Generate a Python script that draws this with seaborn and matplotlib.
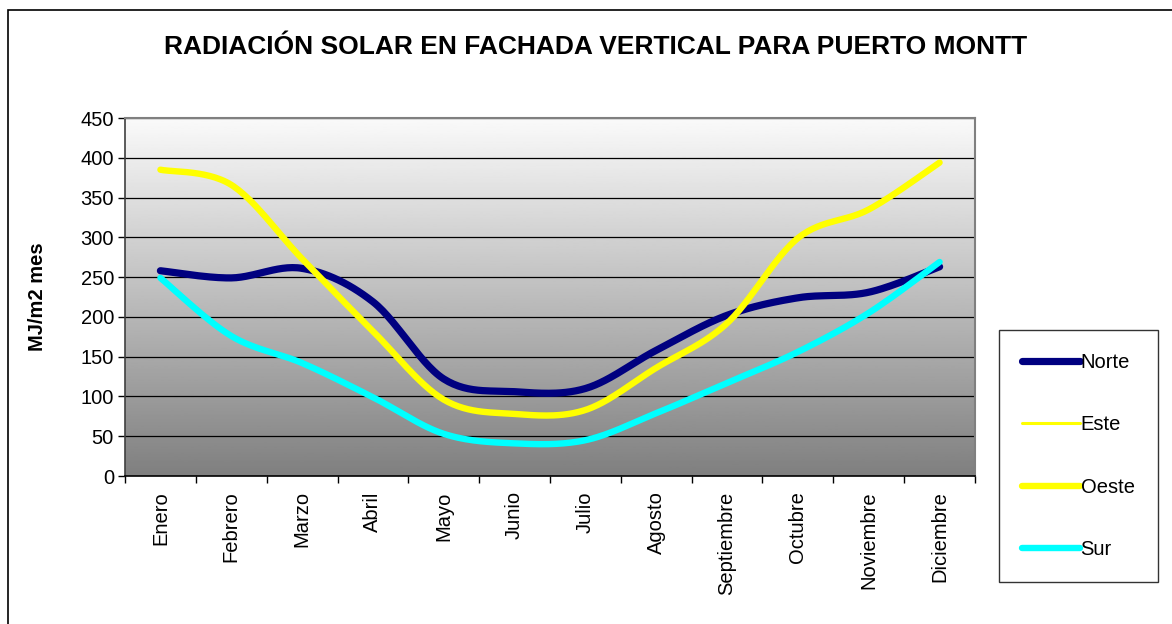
import numpy as np
import pandas as pd
import matplotlib
matplotlib.use("Agg")
import matplotlib.pyplot as plt
import seaborn as sns
from matplotlib.lines import Line2D
from matplotlib.patches import Rectangle

# Monthly radiation values (MJ/m2 mes)
meses = ["Enero", "Febrero", "Marzo", "Abril", "Mayo", "Junio", "Julio",
         "Agosto", "Septiembre", "Octubre", "Noviembre", "Diciembre"]
norte = [258, 249, 261, 219, 122, 106, 110, 158, 202, 224, 231, 263]
este = [385, 366, 273, 182, 96, 78, 83, 136, 192, 299, 335, 394]
oeste = [385, 366, 273, 182, 96, 78, 83, 136, 192, 299, 335, 394]
sur = [249, 176, 142, 99, 53, 41, 45, 79, 117, 156, 205, 269]
y_ticks = list(range(0, 451, 50))


def smooth(values, n=30):
    # Excel style smoothed line: cubic Bezier with Catmull-Rom control points
    p = np.asarray(values, dtype=float)
    x = np.arange(len(p), dtype=float)
    pts = np.column_stack([x, p])
    ext = np.vstack([pts[0], pts, pts[-1]])
    out = []
    t = np.linspace(0, 1, n)[:, None]
    for i in range(len(pts) - 1):
        p0, p3 = ext[i + 1], ext[i + 2]
        c1 = p0 + (ext[i + 2] - ext[i]) / 6.0
        c2 = p3 - (ext[i + 3] - ext[i + 1]) / 6.0
        seg = ((1 - t) ** 3) * p0 + 3 * ((1 - t) ** 2) * t * c1 + 3 * (1 - t) * t ** 2 * c2 + t ** 3 * p3
        out.append(seg if i == 0 else seg[1:])
    seg = np.vstack(out)
    return pd.DataFrame({"x": seg[:, 0], "y": seg[:, 1]})


sns.set_style("white")
plt.rcParams["font.family"] = ["Liberation Sans", "DejaVu Sans"]
plt.rcParams["text.color"] = "black"
plt.rcParams["xtick.color"] = "black"
plt.rcParams["ytick.color"] = "black"
plt.rcParams["axes.labelcolor"] = "black"

FS = 14.5

W, H = 1172, 624
fig = plt.figure(figsize=(W / 100, H / 100), dpi=100)
fig.patch.set_facecolor("white")

# outer chart border (only left and top edges are visible in the image)
fig.patches.append(Rectangle((8 / W, -0.1), 1.2, 1 - 10 / H + 0.1, transform=fig.transFigure,
                             fill=False, edgecolor="black", linewidth=1.2))

ax = fig.add_axes([125 / W, 1 - 476 / H, 850 / W, 358 / H])

# gradient background of the plot area
grad = np.linspace(0.98, 0.50, 256)[:, None]
ax.imshow(grad, aspect="auto", cmap="gray", vmin=0, vmax=1, extent=[0, 1, 0, 1],
          transform=ax.transAxes, zorder=0)

for v in y_ticks[1:]:
    ax.axhline(v, color="black", linewidth=0.9, zorder=1)

series = [
    ("Norte", norte, "#000080", 5.2),
    ("Este", este, "#FFFF00", 2.2),
    ("Oeste", oeste, "#FFFF00", 4.6),
    ("Sur", sur, "#00FFFF", 4.6),
]
for name, vals, col, lw in series:
    d = smooth(vals)
    sns.lineplot(data=d, x="x", y="y", ax=ax, color=col, linewidth=lw, sort=False,
                 estimator=None, solid_capstyle="round", zorder=3)

ax.set_xlim(-0.5, 11.5)
ax.set_ylim(0, 450)
ax.set_xlabel("")
ax.set_ylabel("")

ax.set_yticks(y_ticks)
ax.set_yticklabels([str(v) for v in y_ticks], fontsize=FS)
ax.tick_params(axis="y", direction="out", length=5, width=1, pad=3, left=True)

ax.set_xticks(np.arange(-0.5, 12, 1))
ax.set_xticklabels([])
ax.tick_params(axis="x", which="major", direction="out", length=5, width=1, bottom=True)
ax.set_xticks(np.arange(12), minor=True)
ax.set_xticklabels(meses, minor=True, rotation=90, fontsize=FS)
ax.tick_params(axis="x", which="minor", length=0, pad=11)

for side in ["top", "right"]:
    ax.spines[side].set_color("#808080")
    ax.spines[side].set_linewidth(1.5)
ax.spines["left"].set_color("#404040")
ax.spines["bottom"].set_color("black")
for side in ["left", "bottom"]:
    ax.spines[side].set_linewidth(1.2)

fig.text(596 / W, 1 - 47 / H, "RADIACIÓN SOLAR EN FACHADA VERTICAL PARA PUERTO MONTT",
         ha="center", va="center", fontsize=19, fontweight="bold")
fig.text(38 / W, 1 - 297 / H, "MJ/m2 mes", ha="center", va="center", rotation=90,
         fontsize=FS, fontweight="bold")

handles = [Line2D([], [], color=col, linewidth=lw, solid_capstyle="round")
           for _, _, col, lw in series]
leg = fig.legend(handles, [s[0] for s in series], loc="upper left",
                 bbox_to_anchor=(999 / W, 1 - 330 / H), fontsize=FS, frameon=True,
                 fancybox=False, edgecolor="black", handlelength=2.85, handletextpad=0.05,
                 labelspacing=2.15, borderpad=1.15, borderaxespad=0)
leg.get_frame().set_linewidth(1.0)

fig.savefig("out.png", dpi=100)
